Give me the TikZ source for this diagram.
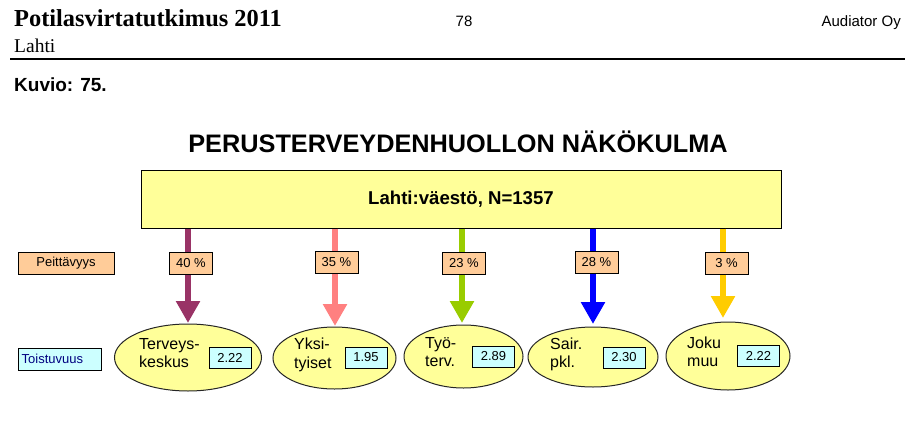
\documentclass[tikz,border=0pt]{standalone}
\usepackage{fontspec}
\setmainfont{Liberation Sans}
\newfontfamily\hdrfont{Liberation Serif}
\usetikzlibrary{arrows.meta,shapes.geometric}
\definecolor{boxyellow}{HTML}{FFFF99}
\definecolor{boxorange}{HTML}{FFCC99}
\definecolor{boxcyan}{HTML}{CCFFFF}
\definecolor{navytext}{HTML}{000080}
\definecolor{arrA}{HTML}{993366}
\definecolor{arrB}{HTML}{FF8080}
\definecolor{arrC}{HTML}{99CC00}
\definecolor{arrD}{HTML}{0000FF}
\definecolor{arrE}{HTML}{FFCC00}
\tikzset{
  pctbox/.style={draw=black, line width=0.9pt, fill=boxorange, minimum width=43pt, minimum height=22pt, inner sep=0pt, font=\fontsize{13}{15}\selectfont},
  valbox/.style={draw=black, line width=0.9pt, fill=boxcyan, minimum width=42pt, minimum height=21pt, inner sep=0pt, font=\fontsize{13}{15}\selectfont},
  oval/.style={ellipse, draw=black!85, line width=1pt, fill=boxyellow, inner sep=0pt},
  ovallabel/.style={anchor=west, align=left, inner sep=0pt, font=\fontsize{16}{18.5}\selectfont},
  flowarrow/.style={line width=6pt, -{Triangle[width=23pt,length=22pt]}},
}
\begin{document}
\begin{tikzpicture}[x=1pt,y=-1pt]
\useasboundingbox (0,0) rectangle (914,434);
% header
\node[anchor=base west, inner sep=0pt, font=\hdrfont\bfseries\fontsize{24.4}{26}\selectfont] (htitle) at (14,26) {Potilasvirtatutkimus 2011};
\node[anchor=base, inner sep=0pt, font=\fontsize{15}{17}\selectfont] (hpage) at (464,26) {78};
\node[anchor=base east, inner sep=0pt, font=\fontsize{15}{17}\selectfont] (hcomp) at (901,26) {Audiator Oy};
\node[anchor=base west, inner sep=0pt, font=\hdrfont\fontsize{19.5}{21}\selectfont] (hcity) at (14,52) {Lahti};
\coordinate (ruleL) at (10,59);
\coordinate (ruleR) at (905,59);
\draw[line width=2.6pt] (ruleL) -- (ruleR);
\node[anchor=base west, inner sep=0pt, font=\bfseries\fontsize{19}{21}\selectfont] (kuvio) at (14,91) {Kuvio: 75.};
% title
\node[anchor=base, inner sep=0pt, font=\bfseries\fontsize{25.3}{28}\selectfont] (title) at (458,152) {PERUSTERVEYDENHUOLLON NÄKÖKULMA};
% population box
\node[draw=black, line width=1pt, fill=boxyellow, minimum width=640pt, minimum height=58pt, inner sep=0pt, font=\bfseries\fontsize{18.6}{21}\selectfont] (pop) at (461,199) {Lahti:väestö, N=1357};
% ellipses
\node[oval, minimum width=147pt, minimum height=67pt] (e1) at (188,357.5) {};
\node[oval, minimum width=123pt, minimum height=62pt] (e2) at (334.5,358) {};
\node[oval, minimum width=119pt, minimum height=63pt] (e3) at (463.5,356.5) {};
\node[oval, minimum width=130pt, minimum height=60pt] (e4) at (593,357) {};
\node[oval, minimum width=124pt, minimum height=68pt] (e5) at (728,356) {};
% arrow tips
\coordinate (t1) at (188,323);
\coordinate (t2) at (335,326);
\coordinate (t3) at (462,323);
\coordinate (t4) at (593,324);
\coordinate (t5) at (723,318);
\draw[flowarrow, arrA] (pop.south -| t1) -- (t1);
\draw[flowarrow, arrB] (pop.south -| t2) -- (t2);
\draw[flowarrow, arrC] (pop.south -| t3) -- (t3);
\draw[flowarrow, arrD] (pop.south -| t4) -- (t4);
\draw[flowarrow, arrE] (pop.south -| t5) -- (t5);
% percentage boxes
\node[pctbox] (p1) at (191,263) {40 \%};
\node[pctbox] (p2) at (336.5,262.5) {35 \%};
\node[pctbox] (p3) at (464,263) {23 \%};
\node[pctbox] (p4) at (596.5,262.5) {28 \%};
\node[pctbox] (p5) at (726.5,263) {3 \%};
% row labels
\node[pctbox, minimum width=96pt] (peit) at (66,263) {Peittävyys};
\node[draw=black, line width=0.9pt, fill=boxcyan, minimum width=83pt, minimum height=22pt, inner sep=0pt] (tois) at (59.5,359) {};
\node[anchor=west, inner sep=0pt, text=navytext, font=\fontsize{13}{15}\selectfont] (toistext) at (21.5,359) {Toistuvuus};
% ellipse labels
\node[ovallabel] (l1) at (139,353) {Terveys-\\keskus};
\node[ovallabel] (l2) at (294,355) {Yksi-\\tyiset};
\node[ovallabel] (l3) at (425,352) {Työ-\\terv.};
\node[ovallabel] (l4) at (550,354.5) {Sair.\\pkl.};
\node[ovallabel] (l5) at (687,352) {Joku\\muu};
% value boxes
\node[valbox] (v1) at (230,357.5) {2.22};
\node[valbox] (v2) at (366,357.5) {1.95};
\node[valbox] (v3) at (493.5,356.5) {2.89};
\node[valbox] (v4) at (624,357.5) {2.30};
\node[valbox] (v5) at (758.5,356) {2.22};
\end{tikzpicture}
\end{document}
